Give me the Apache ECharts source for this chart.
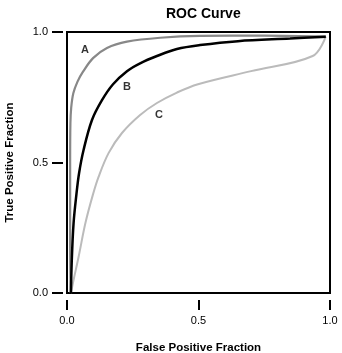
<!DOCTYPE html>
<html>
<head>
<meta charset="utf-8">
<script src="https://cdn.jsdelivr.net/npm/echarts@6/dist/echarts.min.js"></script>
<style>html,body{margin:0;padding:0;background:#fff;}#c{width:342px;height:353px;}</style>
</head>
<body>
<div id="c"></div>
<script>
var titleText = 'ROC Curve';
var xName = 'False Positive Fraction';
var yName = 'True Positive Fraction';
var ticks = [0, 0.5, 1];

var curveA = [[0.014,0],[0.012,0.2],[0.012,0.5],[0.013,0.65],[0.016,0.71],[0.024,0.765],[0.040,0.81],[0.061,0.848],[0.099,0.900],[0.152,0.939],[0.228,0.963],[0.354,0.978],[0.506,0.985],[0.75,0.986],[0.984,0.982]];
var curveB = [[0.015,0],[0.018,0.12],[0.025,0.268],[0.036,0.38],[0.046,0.46],[0.063,0.548],[0.095,0.663],[0.133,0.739],[0.175,0.800],[0.228,0.850],[0.278,0.880],[0.342,0.908],[0.418,0.935],[0.506,0.950],[0.65,0.965],[0.848,0.975],[0.984,0.982]];
var curveC = [[0.015,0],[0.025,0.05],[0.044,0.138],[0.070,0.268],[0.098,0.375],[0.120,0.445],[0.158,0.536],[0.209,0.613],[0.278,0.682],[0.342,0.728],[0.418,0.768],[0.498,0.800],[0.70,0.85],[0.934,0.908],[0.984,0.982]];
var labelPoints = [{name:'A', value:[0.068,0.931]},{name:'B', value:[0.228,0.789]},{name:'C', value:[0.35,0.682]}];

var font = 'Liberation Sans, Arial, Helvetica, sans-serif';
var chart = echarts.init(document.getElementById('c'));
function lineSeries(data, color, width) {
  return {type:'line', data:data, smooth:0.35, symbol:'none', silent:true,
    lineStyle:{color:color, width:width}, z:2};
}
chart.setOption({
  animation:false,
  title:{text:titleText, left:161, top:2, textStyle:{fontFamily:font, fontSize:14, fontWeight:'bold', color:'#000'}},
  grid:{left:67, top:32, width:263, height:261, containLabel:false, outerBoundsMode:'none', show:true, borderColor:'#000', borderWidth:2, backgroundColor:'transparent'},
  xAxis:{type:'value', min:0, max:1, interval:0.5, offset:7,
    name:xName, nameLocation:'middle', nameGap:42,
    nameTextStyle:{fontFamily:font, fontSize:11.5, fontWeight:'bold', color:'#000'},
    axisLine:{show:false, onZero:false}, splitLine:{show:false},
    axisTick:{show:true, inside:false, length:10, lineStyle:{color:'#000', width:2}},
    axisLabel:{margin:15, fontFamily:font, fontSize:11, color:'#000', formatter:function(v){return v.toFixed(1);}}},
  yAxis:{type:'value', min:0, max:1, interval:0.5, offset:4,
    name:yName, nameLocation:'middle', nameGap:47,
    nameTextStyle:{fontFamily:font, fontSize:11.5, fontWeight:'bold', color:'#000'},
    axisLine:{show:false, onZero:false}, splitLine:{show:false},
    axisTick:{show:true, inside:false, length:11, lineStyle:{color:'#000', width:2}},
    axisLabel:{margin:15, fontFamily:font, fontSize:11, color:'#000', formatter:function(v){return v.toFixed(1);}}},
  series:[
    lineSeries(curveC, '#bbbbbb', 2),
    lineSeries(curveA, '#888888', 2.2),
    lineSeries(curveB, '#000000', 2.5),
    {type:'scatter', data:labelPoints, symbolSize:1, itemStyle:{color:'transparent'}, silent:true,
      label:{show:true, position:'inside', formatter:'{b}', fontFamily:font, fontSize:11, fontWeight:'bold', color:'#000'}}
  ]
});
</script>
</body>
</html>
